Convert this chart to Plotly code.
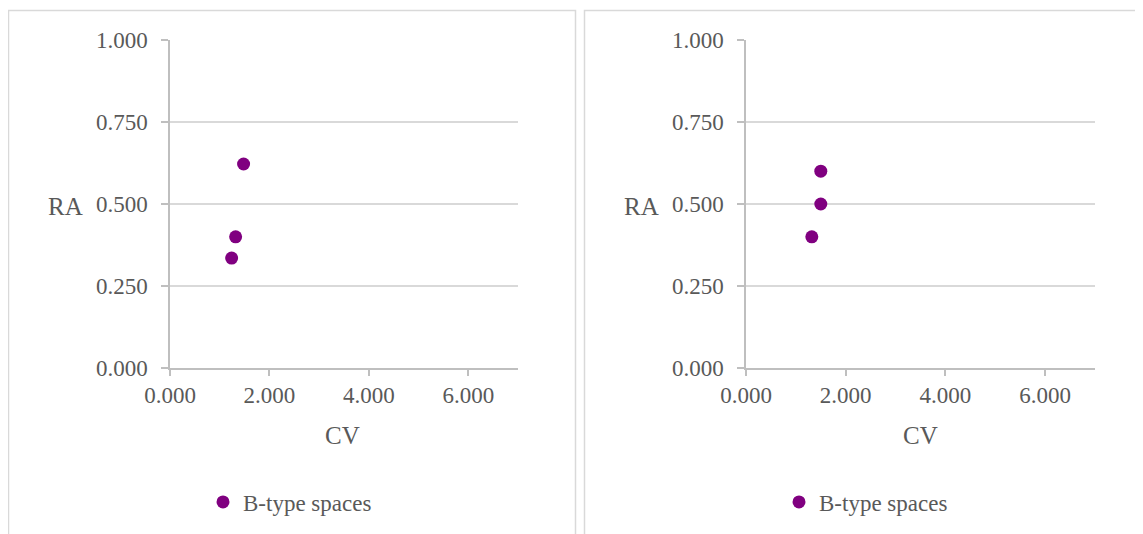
import plotly.graph_objects as go

W, H = 1143, 534
OFF = 8  # page body margin offset

series_name = "B-type spaces"
left_cv = [1.48, 1.32, 1.24]
left_ra = [0.622, 0.400, 0.335]
right_cv = [1.50, 1.50, 1.32]
right_ra = [0.600, 0.500, 0.400]

x_ticks = [0, 2, 4, 6]
x_tick_labels = ["0.000", "2.000", "4.000", "6.000"]
y_ticks = [0, 0.25, 0.5, 0.75, 1.0]
y_tick_labels = ["0.000", "0.250", "0.500", "0.750", "1.000"]

FONT = "Liberation Serif"
TXT = "#595959"
GRID = "#d9d9d9"
AXIS = "#bfbfbf"
PURPLE = "#800080"

def px(x):
    return (x - OFF) / W

def py(y):
    return 1 - (y - OFF) / H

fig = go.Figure()
fig.add_trace(go.Scatter(x=left_cv, y=left_ra, mode="markers", name=series_name,
                         marker=dict(color=PURPLE, size=13), xaxis="x", yaxis="y",
                         legend="legend"))
fig.add_trace(go.Scatter(x=right_cv, y=right_ra, mode="markers", name=series_name,
                         marker=dict(color=PURPLE, size=13), xaxis="x2", yaxis="y2",
                         legend="legend2"))

ydom = [py(368), py(40)]
common_x = dict(range=[0, 7], tickvals=x_ticks, ticktext=x_tick_labels, automargin=False,
                showgrid=False, zeroline=False, showline=True, linecolor=AXIS, linewidth=1.5,
                ticks="outside", ticklen=6, tickcolor=AXIS, tickwidth=1.5,
                tickfont=dict(family=FONT, size=23, color=TXT), fixedrange=True)
common_y = dict(range=[0, 1], tickvals=y_ticks, ticktext=y_tick_labels, automargin=False,
                showgrid=True, gridcolor=GRID, gridwidth=1.5, zeroline=False,
                showline=True, linecolor=AXIS, linewidth=1.5,
                ticks="outside", ticklen=7, tickcolor=AXIS, tickwidth=1.5,
                ticklabelstandoff=9,
                tickfont=dict(family=FONT, size=23, color=TXT), fixedrange=True)

fig.update_layout(
    width=W, height=H,
    margin=dict(l=0, r=0, t=0, b=0, autoexpand=False),
    paper_bgcolor="white", plot_bgcolor="white",
    xaxis=dict(domain=[px(170), px(518)], anchor="y", **common_x),
    yaxis=dict(domain=ydom, anchor="x", **common_y),
    xaxis2=dict(domain=[px(746), px(1095)], anchor="y2", **common_x),
    yaxis2=dict(domain=ydom, anchor="x2", **common_y),
    legend=dict(x=px(203), y=py(502), xanchor="left", yanchor="middle",
                font=dict(family=FONT, size=23, color=TXT), bgcolor="rgba(0,0,0,0)",
                itemwidth=30),
    legend2=dict(x=px(779), y=py(502), xanchor="left", yanchor="middle",
                 font=dict(family=FONT, size=23, color=TXT), bgcolor="rgba(0,0,0,0)",
                 itemwidth=30),
    showlegend=True,
)

for cx in (343, 920):
    fig.add_annotation(x=px(cx), y=py(435), xref="paper", yref="paper", text="CV",
                       showarrow=False, font=dict(family=FONT, size=25, color=TXT),
                       xanchor="center", yanchor="middle")
for cx in (65, 641):
    fig.add_annotation(x=px(cx), y=py(206), xref="paper", yref="paper", text="RA",
                       showarrow=False, font=dict(family=FONT, size=25, color=TXT),
                       xanchor="center", yanchor="middle")

# chart borders
fig.add_shape(type="rect", xref="paper", yref="paper", x0=px(8.5), x1=px(575.5),
              y0=py(H + 20), y1=py(10.5), line=dict(color=GRID, width=1.5), layer="below")
fig.add_shape(type="rect", xref="paper", yref="paper", x0=px(584.5), x1=px(W + 20),
              y0=py(H + 20), y1=py(10.5), line=dict(color=GRID, width=1.5), layer="below")

fig.write_html("out.html")
